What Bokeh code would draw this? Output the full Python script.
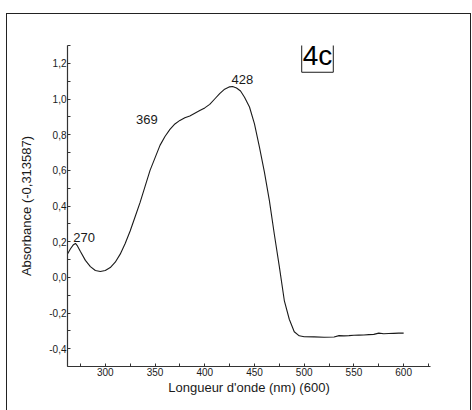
from bokeh.plotting import figure
from bokeh.models import Range1d, FixedTicker, Label, InlineStyleSheet
from bokeh.embed import file_html
from bokeh.resources import INLINE

# ---- data ----
wavelength = [262, 265, 268, 270, 272, 275, 280, 285, 290, 295, 300, 305, 310,
              315, 320, 325, 330, 335, 340, 345, 350, 355, 360, 365, 370, 375,
              380, 385, 390, 395, 400, 405, 410, 415, 420, 425, 428, 432, 436,
              440, 445, 450, 455, 460, 465, 470, 475, 480, 485, 490, 495, 500,
              510, 520, 530, 535, 540, 545, 550, 555, 560, 565, 570, 575, 580,
              585, 590, 595, 600]
absorbance = [0.131, 0.16, 0.183, 0.19, 0.176, 0.145, 0.095, 0.06, 0.038, 0.033,
              0.038, 0.055, 0.085, 0.13, 0.19, 0.26, 0.34, 0.42, 0.51, 0.60,
              0.67, 0.74, 0.79, 0.83, 0.86, 0.88, 0.895, 0.905, 0.92, 0.935,
              0.95, 0.97, 1.0, 1.03, 1.055, 1.068, 1.07, 1.062, 1.045, 1.01,
              0.955, 0.86, 0.73, 0.59, 0.43, 0.24, 0.06, -0.13, -0.235, -0.305,
              -0.328, -0.333, -0.334, -0.336, -0.335, -0.327, -0.328, -0.327,
              -0.325, -0.324, -0.323, -0.321, -0.32, -0.313, -0.316, -0.315,
              -0.314, -0.313, -0.313]

peak_label = ["270", "369", "428"]
peak_label_x = [267.7, 331.0, 427.0]
peak_label_y = [0.225, 0.885, 1.11]

x_ticks = [300, 350, 400, 450, 500, 550, 600]
x_minor = [275, 325, 375, 425, 475, 525, 575, 625]
y_ticks = [-0.4, -0.2, 0.0, 0.2, 0.4, 0.6, 0.8, 1.0, 1.2]
y_tick_labels = ["-0,4", "-0,2", "0,0", "0,2", "0,4", "0,6", "0,8", "1,0", "1,2"]
y_minor = [-0.5, -0.3, -0.1, 0.1, 0.3, 0.5, 0.7, 0.9, 1.1, 1.3]

tag_text = "4c"
tag_x = 497.5
tag_y = 1.335

FONT = "Liberation Sans"
INK = "#1a1a1a"

p = figure(width=472, height=410, output_backend="svg", toolbar_location=None,
           x_range=Range1d(262, 627), y_range=Range1d(-0.5, 1.3),
           min_border_left=67, min_border_right=42, min_border_top=45,
           min_border_bottom=44)
p.frame_width = 363
p.frame_height = 321
p.outline_line_color = None
p.grid.visible = False
p.background_fill_color = "white"
p.border_fill_color = "white"

p.line(wavelength, absorbance, line_color=INK, line_width=1.1)

# axes
for ax in (p.xaxis[0], p.yaxis[0]):
    ax.axis_line_color = "#333333"
    ax.axis_line_width = 1.2
    ax.major_tick_in = 3
    ax.major_tick_out = 0
    ax.minor_tick_in = 3
    ax.minor_tick_out = 0
    ax.major_tick_line_color = "#333333"
    ax.minor_tick_line_color = "#333333"
    ax.major_label_text_font = FONT
    ax.major_label_text_font_size = "10px"
    ax.major_label_text_color = INK
    ax.axis_label_text_font = FONT
    ax.axis_label_text_font_size = "13px"
    ax.axis_label_text_font_style = "normal"
    ax.axis_label_text_color = INK

p.xaxis[0].ticker = FixedTicker(ticks=x_ticks, minor_ticks=x_minor)
p.xaxis[0].major_label_standoff = 1
p.xaxis[0].axis_label = "Longueur d'onde (nm) (600)"
p.xaxis[0].axis_label_standoff = 1

p.yaxis[0].ticker = FixedTicker(ticks=y_ticks, minor_ticks=y_minor)
p.yaxis[0].major_label_overrides = {t: l for t, l in zip(y_ticks, y_tick_labels)}
p.yaxis[0].major_label_standoff = 1
p.yaxis[0].axis_label = "Absorbance (-0,313587)"
p.yaxis[0].axis_label_standoff = 12

# peak annotations
for lx, ly, lt in zip(peak_label_x, peak_label_y, peak_label):
    p.add_layout(Label(x=lx, y=ly, text=lt, text_font=FONT,
                       text_font_size="13px", text_color=INK,
                       text_align="left", text_baseline="alphabetic"))

# "4c" tag with its box
p.add_layout(Label(x=tag_x, y=tag_y, text=tag_text, text_font=FONT,
                   text_font_size="28px", text_color="black",
                   text_align="left", text_baseline="top",
                   border_line_color=INK, border_line_width=1,
                   padding=1))

# outer frame around the whole picture
p.stylesheets = [InlineStyleSheet(css="""
:host { position: relative; }
:host::after {
  content: '';
  position: absolute;
  left: 6px; top: 13px; width: 465px; height: 397px;
  border: 1.6px solid #222; border-bottom: none;
  box-sizing: border-box; pointer-events: none;
}
""")]

open("out.html", "w").write(file_html(p, INLINE))
